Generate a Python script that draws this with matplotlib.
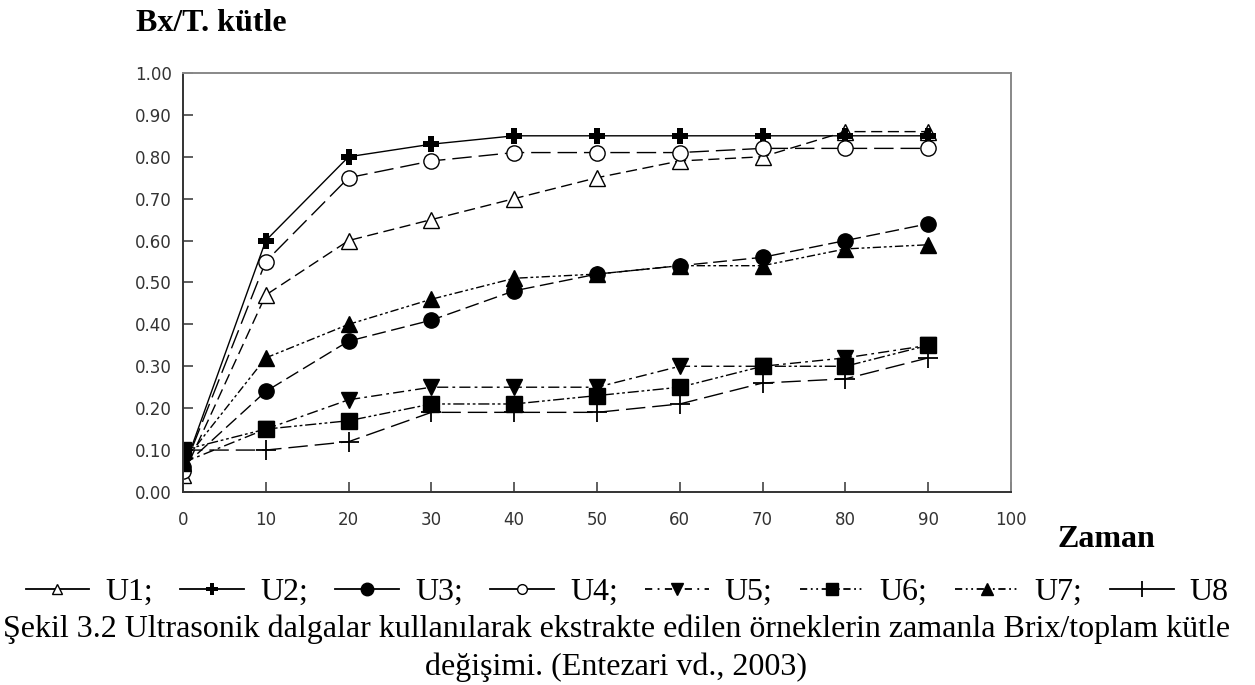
import matplotlib.pyplot as plt
from matplotlib.lines import Line2D

# time (x) and Brix / total mass values
zaman = [0, 10, 20, 30, 40, 50, 60, 70, 80, 90]
u1 = [0.04, 0.47, 0.60, 0.65, 0.70, 0.75, 0.79, 0.80, 0.86, 0.86]
u2 = [0.05, 0.60, 0.80, 0.83, 0.85, 0.85, 0.85, 0.85, 0.85, 0.85]
u3 = [0.06, 0.24, 0.36, 0.41, 0.48, 0.52, 0.54, 0.56, 0.60, 0.64]
u4 = [0.05, 0.55, 0.75, 0.79, 0.81, 0.81, 0.81, 0.82, 0.82, 0.82]
u5 = [0.07, 0.15, 0.22, 0.25, 0.25, 0.25, 0.30, 0.30, 0.32, 0.35]
u6 = [0.10, 0.15, 0.17, 0.21, 0.21, 0.23, 0.25, 0.30, 0.30, 0.35]
u7 = [0.07, 0.32, 0.40, 0.46, 0.51, 0.52, 0.54, 0.54, 0.58, 0.59]
u8 = [0.10, 0.10, 0.12, 0.19, 0.19, 0.19, 0.21, 0.26, 0.27, 0.32]
labels = ['U1;', 'U2;', 'U3;', 'U4;', 'U5;', 'U6;', 'U7;', 'U8']

serif = ['Liberation Serif', 'DejaVu Serif']

fig = plt.figure(figsize=(12.55, 6.85), dpi=100)
ax = fig.add_axes([0.1458, 0.2818, 0.6598, 0.6117])

k = 'black'
ax.plot(zaman, u1, color=k, lw=1.0, ls=(0, (8, 4)), marker='^', ms=11, mfc='white', mec=k)
ax.plot(zaman, u2, color=k, lw=1.0, ls='-', marker='P', ms=12, mfc=k, mec=k, mew=0)
ax.plot(zaman, u3, color=k, lw=1.0, ls=(0, (10, 4)), marker='o', ms=11, mfc=k, mec=k)
ax.plot(zaman, u4, color=k, lw=1.0, ls=(0, (14, 5)), marker='o', ms=11, mfc='white', mec=k)
ax.plot(zaman, u5, color=k, lw=1.0, ls=(0, (8, 3, 2, 3)), marker='v', ms=11, mfc=k, mec=k)
ax.plot(zaman, u6, color=k, lw=1.0, ls=(0, (8, 2, 2, 2, 2, 2)), marker='s', ms=11, mfc=k, mec=k)
ax.plot(zaman, u7, color=k, lw=1.0, ls=(0, (6, 2, 2, 2, 2, 2)), marker='^', ms=11, mfc=k, mec=k)
ax.plot(zaman, u8, color=k, lw=1.0, ls=(0, (14, 5)), marker='+', ms=14, mew=1.3, mec=k)

ax.set_xlim(0, 100)
ax.set_ylim(0, 1.0)
ax.set_xticks(range(0, 101, 10))
ax.set_yticks([i / 10 for i in range(11)])
ax.set_yticklabels(['%.2f' % (i / 10) for i in range(11)])
ax.tick_params(direction='in', length=7, width=1.2, colors='#444444',
               labelsize=12, labelcolor='#333333', pad=8)
ax.tick_params(axis='x', pad=14)
for side in ['left', 'bottom']:
    ax.spines[side].set_color('#333333')
    ax.spines[side].set_linewidth(1.4)
for side in ['top', 'right']:
    ax.spines[side].set_color('#888888')
    ax.spines[side].set_linewidth(1.4)

fig.text(0.108, 0.966, 'Bx/T. kütle', family=serif, fontsize=23,
         fontweight='bold', va='center', ha='left')
fig.text(0.843, 0.213, 'Zaman', family=serif, fontsize=23,
         fontweight='bold', va='center', ha='left')

# legend line in the caption style
handles = [
    Line2D([], [], color=k, lw=1.3, marker='^', ms=7, mfc='white', mec=k),
    Line2D([], [], color=k, lw=1.3, marker='P', ms=9, mfc=k, mew=0),
    Line2D([], [], color=k, lw=1.3, marker='o', ms=9, mfc=k, mec=k),
    Line2D([], [], color=k, lw=1.3, marker='o', ms=7, mfc='white', mec=k),
    Line2D([], [], color=k, lw=1.3, ls=(0, (4, 3, 1, 3)), marker='v', ms=9, mfc=k, mec=k),
    Line2D([], [], color=k, lw=1.3, ls=(0, (4, 2, 1, 2, 1, 2)), marker='s', ms=8, mfc=k, mec=k),
    Line2D([], [], color=k, lw=1.3, ls=(0, (4, 2, 1, 2, 1, 2)), marker='^', ms=9, mfc=k, mec=k),
    Line2D([], [], color=k, lw=1.3, marker='|', ms=11, mew=1.3, mec=k),
]
fig.legend(handles, labels, loc='center', bbox_to_anchor=(0.4996, 0.135), ncol=8,
           frameon=False, prop={'family': serif, 'size': 23}, handlelength=2.0,
           handletextpad=0.5, columnspacing=0.85, borderpad=0)

fig.text(0.491, 0.070, 'Şekil 3.2 Ultrasonik dalgalar kullanılarak ekstrakte edilen '
         'örneklerin zamanla Brix/toplam kütle', family=serif, fontsize=23,
         ha='center', va='baseline')
fig.text(0.491, 0.0146, 'değişimi. (Entezari vd., 2003)', family=serif, fontsize=23,
         ha='center', va='baseline')

fig.savefig('out.png', dpi=100)
